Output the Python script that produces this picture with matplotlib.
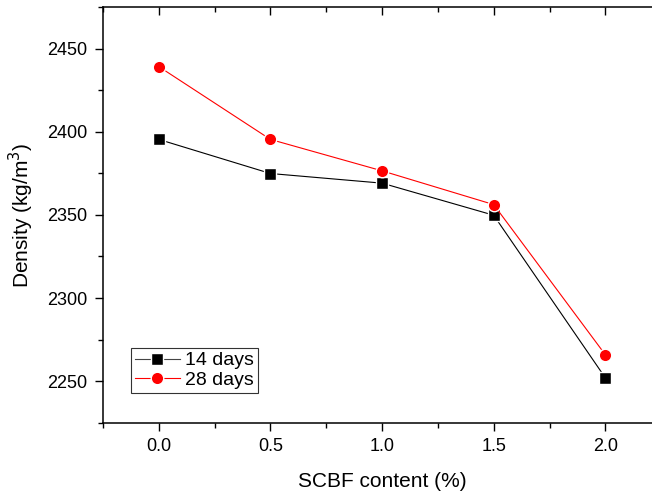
import matplotlib
matplotlib.use("Agg")
import matplotlib.pyplot as plt
from matplotlib.ticker import MultipleLocator

# SCBF content (%) and density values
scbf_content = [0.0, 0.5, 1.0, 1.5, 2.0]
density_14_days = [2395.4, 2374.9, 2369.1, 2349.8, 2252.0]
density_28_days = [2439.2, 2395.4, 2376.5, 2356.2, 2265.9]

plt.rcParams['font.family'] = ['Liberation Sans', 'DejaVu Sans']

fig = plt.figure(figsize=(6.52, 4.93), dpi=100)
ax = fig.add_axes([0.158, 0.1426, 0.856, 0.843])

ax.plot(scbf_content, density_14_days, color='black', lw=0.8, marker='s',
        markersize=8, markerfacecolor='black', markeredgecolor='white',
        markeredgewidth=1.0, label='14 days')
ax.plot(scbf_content, density_28_days, color='red', lw=0.8, marker='o',
        markersize=9, markerfacecolor='red', markeredgecolor='white',
        markeredgewidth=1.0, label='28 days')

ax.set_xlim(-0.25, 2.25)
ax.set_ylim(2225, 2475)
ax.xaxis.set_major_locator(MultipleLocator(0.5))
ax.xaxis.set_minor_locator(MultipleLocator(0.25))
ax.yaxis.set_major_locator(MultipleLocator(50))
ax.yaxis.set_minor_locator(MultipleLocator(25))
ax.xaxis.set_major_formatter(plt.FormatStrFormatter('%.1f'))

ax.tick_params(axis='both', which='major', direction='out', length=6,
               width=1.0, labelsize=13, pad=5)
ax.tick_params(axis='both', which='minor', direction='out', length=3.5,
               width=1.0)
ax.tick_params(axis='x', which='both', top=True, labeltop=False)
for t in ax.xaxis.get_major_ticks() + ax.xaxis.get_minor_ticks():
    t.tick2line.set_marker(3)  # top ticks point into the plot

for s in ax.spines.values():
    s.set_linewidth(1.1)

ax.set_xlabel('SCBF content (%)', fontsize=15, labelpad=12)
ax.set_ylabel('Density (kg/m$^3$)', fontsize=15, labelpad=8)

leg = ax.legend(loc='lower left', bbox_to_anchor=(0.05, 0.072), fontsize=14,
                frameon=True, fancybox=False, edgecolor='black',
                handlelength=2.3, handletextpad=0.3, borderpad=0.2,
                labelspacing=0.1, borderaxespad=0)
leg.get_frame().set_linewidth(0.8)
leg.get_lines()[0].set_color('#444444')

fig.savefig('out.png', dpi=100)
